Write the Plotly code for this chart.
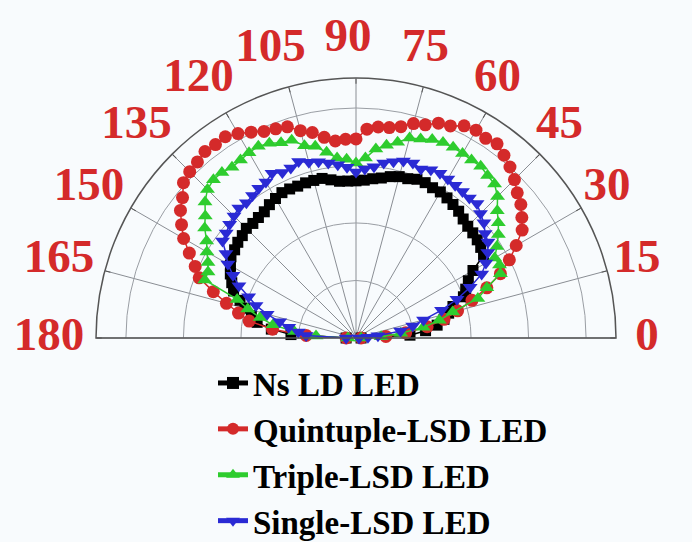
import plotly.graph_objects as go

# angle (degrees) shared by all series
theta = [0, 3, 6, 9, 12, 15, 18, 21, 24, 27, 30, 33, 36, 39, 42, 45, 48, 51, 54, 57,
         60, 63, 66, 69, 72, 75, 78, 81, 84, 87, 90, 93, 96, 99, 102, 105, 108, 111,
         114, 117, 120, 123, 126, 129, 132, 135, 138, 141, 144, 147, 150, 153, 156,
         159, 162, 165, 168, 171, 174, 177, 180]

ns_ld = [2.2, 23.5, 30.4, 35.7, 39.1, 41.7, 44.3, 50.0, 52.2, 54.8, 58.7, 66.1, 67.0,
         67.8, 68.3, 68.7, 69.6, 70.9, 71.7, 72.6, 73.3, 73.3, 73.9, 73.9, 72.8, 72.6,
         71.7, 70.4, 69.6, 68.7, 68.3, 68.3, 68.5, 69.6, 70.9, 70.9, 70.9, 70.7, 70.9,
         70.9, 70.0, 69.1, 67.8, 67.4, 67.0, 67.4, 66.5, 66.1, 65.2, 64.8, 63.0, 61.3,
         59.1, 57.0, 53.0, 50.0, 46.5, 43.5, 37.0, 28.3, 4.3]

quintuple = [2.2, 13.0, 21.7, 31.3, 39.1, 45.7, 53.0, 60.9, 68.7, 74.8, 80.4, 86.1, 89.1,
             92.2, 94.3, 97.4, 100.0, 102.2, 104.3, 103.5, 104.3, 103.5, 100.9, 100.0,
             97.4, 96.5, 93.9, 92.6, 92.2, 90.9, 86.5, 86.5, 86.1, 88.3, 91.3, 93.3, 96.5,
             97.4, 98.3, 100.4, 102.6, 104.3, 103.9, 104.3, 103.0, 102.2, 100.9, 97.0,
             94.3, 90.4, 86.5, 81.3, 76.5, 73.0, 65.2, 58.3, 52.2, 47.0, 36.5, 21.7, 4.3]

triple = [2.2, 10.9, 19.6, 29.6, 37.0, 43.5, 55.7, 60.9, 68.7, 70.0, 69.6, 73.0, 76.5,
          79.6, 82.6, 87.0, 90.0, 90.9, 92.2, 92.2, 92.6, 93.0, 93.0, 92.4, 90.9, 90.0,
          87.0, 84.8, 82.6, 78.3, 76.1, 77.8, 78.7, 81.7, 85.2, 86.5, 90.4, 90.9, 92.6,
          93.5, 93.0, 92.2, 91.7, 92.6, 92.6, 91.3, 88.3, 84.3, 81.3, 77.4, 74.8, 72.2,
          70.4, 70.4, 54.3, 48.7, 42.6, 36.5, 27.0, 17.4, 3.5]

single = [1.3, 5.2, 9.6, 19.6, 25.2, 30.4, 39.1, 47.0, 54.3, 61.3, 65.2, 68.3, 70.9,
          72.2, 74.8, 76.5, 78.6, 78.3, 78.7, 79.1, 79.8, 80.4, 80.0, 78.7, 80.0, 79.6,
          78.3, 77.0, 74.8, 73.5, 72.2, 74.3, 75.7, 77.0, 78.3, 79.1, 80.7, 79.1, 78.7,
          80.4, 78.3, 77.6, 76.5, 75.7, 76.1, 75.0, 73.9, 72.6, 71.7, 67.4, 64.3, 60.0,
          55.7, 50.0, 45.7, 40.0, 33.9, 29.6, 25.2, 21.7, 4.3]

series_names = ["Ns LD LED", "Quintuple-LSD LED", "Triple-LSD LED", "Single-LSD LED"]
series_values = [ns_ld, quintuple, triple, single]
series_colors = ["#000000", "#d42a2a", "#2ecc2e", "#2a2ad4"]
series_symbols = ["square", "circle", "triangle-up", "triangle-down"]
series_sizes = [11, 13, 13, 13]

major_angles = list(range(0, 181, 15))
minor_angles = [a * 7.5 for a in range(0, 25)]
angle_labels = [str(a) for a in major_angles]
major_rings = [25, 50, 75, 100]
minor_rings = [12.5, 37.5, 62.5, 87.5]
r_max = 113
r_label = 130  # radius (data units) at which the angle labels are centred

bg = "#f8fbfd"
label_red = "#d42a2a"
serif = "Liberation Serif"

# geometry (pixels) of the half-disc: centre and radius
W, H = 692, 542
cx, cy, R = 356, 338, 260
lab_cx = 348      # centre of the transparent label subplot
R_lab_area = 320  # its radius; same px-per-unit scale as the main subplot

fig = go.Figure()
for name, vals, col, sym, sz in zip(series_names, series_values, series_colors,
                                    series_symbols, series_sizes):
    fig.add_trace(go.Scatterpolar(
        r=vals, theta=theta, name=name, subplot="polar2",
        mode="lines+markers",
        line=dict(color=col, width=1.5),
        marker=dict(symbol=sym, size=sz, color=col),
    ))

# angle labels, drawn through a transparent polar subplot that shares the scale
fig.add_trace(go.Scatterpolar(
    r=[r_label] * len(major_angles), theta=major_angles, text=angle_labels,
    mode="text", subplot="polar3", showlegend=False, hoverinfo="skip",
    textposition="middle center",
    textfont=dict(family=serif, size=47, color=label_red, weight="bold"),
))

dom = dict(x=[(cx - R) / W, (cx + R) / W], y=[1 - cy / H, 1 - (cy - R) / H])
dom3 = dict(x=[(lab_cx - R_lab_area) / W, (lab_cx + R_lab_area) / W],
            y=[1 - cy / H, 1 - (cy - R_lab_area) / H])

fig.update_layout(
    width=W, height=H,
    margin=dict(l=0, r=0, t=0, b=0, pad=0, autoexpand=False),
    paper_bgcolor=bg,
    # light minor grid (every 7.5 deg / half ring)
    polar=dict(
        domain=dom, sector=[0, 180], bgcolor=bg,
        radialaxis=dict(range=[0, r_max], tickvals=minor_rings, showticklabels=False,
                        ticks="", showline=False, gridcolor="#dde3ea", gridwidth=1),
        angularaxis=dict(tickvals=minor_angles, showticklabels=False, ticks="",
                         gridcolor="#dde3ea", gridwidth=1, showline=False),
    ),
    # darker major grid (every 15 deg / ring), outer arc and the data
    polar2=dict(
        domain=dom, sector=[0, 180], bgcolor="rgba(0,0,0,0)",
        radialaxis=dict(range=[0, r_max], tickvals=major_rings, showticklabels=False,
                        ticks="", showline=False, gridcolor="#9a9ea4", gridwidth=1),
        angularaxis=dict(tickvals=major_angles, showticklabels=False,
                         ticks="inside", ticklen=5, tickcolor="#555555",
                         gridcolor="#8a8e94", gridwidth=1,
                         showline=True, linecolor="#555555", linewidth=1.5),
    ),
    polar3=dict(
        domain=dom3, sector=[0, 180], bgcolor="rgba(0,0,0,0)",
        radialaxis=dict(range=[0, r_max * R_lab_area / R], visible=False),
        angularaxis=dict(visible=False),
    ),
    showlegend=True,
    legend=dict(
        x=213 / W, y=0.345, xanchor="left", yanchor="top",
        bgcolor="rgba(0,0,0,0)", itemsizing="constant",
        font=dict(family=serif, size=33, color="#000000", weight="bold"),
        tracegroupgap=0,
    ),
)

fig.write_html("out.html")
